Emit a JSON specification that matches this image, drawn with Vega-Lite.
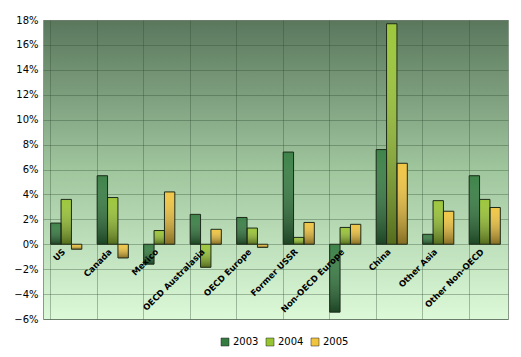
{
  "$schema": "https://vega.github.io/schema/vega-lite/v6.json",
  "width": 465,
  "height": 299,
  "autosize": {"type": "none"},
  "padding": {"left": 43, "top": 20, "right": 13, "bottom": 38},
  "background": "white",
  "config": {
    "font": "DejaVu Sans",
    "view": {
      "fill": {"gradient": "linear", "x1": 0, "y1": 0, "x2": 0, "y2": 1,
        "stops": [{"offset": 0, "color": "#5a775d"}, {"offset": 0.5, "color": "#a0c69e"}, {"offset": 1, "color": "#dcf9d8"}]},
      "stroke": "#8a9a8a"
    }
  },
  "data": {"values": [
    {"region": "US", "year": "2003", "value": 0.017},
    {"region": "US", "year": "2004", "value": 0.036},
    {"region": "US", "year": "2005", "value": -0.004},
    {"region": "Canada", "year": "2003", "value": 0.055},
    {"region": "Canada", "year": "2004", "value": 0.0375},
    {"region": "Canada", "year": "2005", "value": -0.011},
    {"region": "Mexico", "year": "2003", "value": -0.016},
    {"region": "Mexico", "year": "2004", "value": 0.011},
    {"region": "Mexico", "year": "2005", "value": 0.042},
    {"region": "OECD Australasia", "year": "2003", "value": 0.024},
    {"region": "OECD Australasia", "year": "2004", "value": -0.0185},
    {"region": "OECD Australasia", "year": "2005", "value": 0.012},
    {"region": "OECD Europe", "year": "2003", "value": 0.0215},
    {"region": "OECD Europe", "year": "2004", "value": 0.013},
    {"region": "OECD Europe", "year": "2005", "value": -0.0025},
    {"region": "Former USSR", "year": "2003", "value": 0.074},
    {"region": "Former USSR", "year": "2004", "value": 0.0055},
    {"region": "Former USSR", "year": "2005", "value": 0.0175},
    {"region": "Non-OECD Europe", "year": "2003", "value": -0.0545},
    {"region": "Non-OECD Europe", "year": "2004", "value": 0.0135},
    {"region": "Non-OECD Europe", "year": "2005", "value": 0.016},
    {"region": "China", "year": "2003", "value": 0.076},
    {"region": "China", "year": "2004", "value": 0.177},
    {"region": "China", "year": "2005", "value": 0.065},
    {"region": "Other Asia", "year": "2003", "value": 0.008},
    {"region": "Other Asia", "year": "2004", "value": 0.035},
    {"region": "Other Asia", "year": "2005", "value": 0.0265},
    {"region": "Other Non-OECD", "year": "2003", "value": 0.055},
    {"region": "Other Non-OECD", "year": "2004", "value": 0.036},
    {"region": "Other Non-OECD", "year": "2005", "value": 0.0295}
  ]},
  "encoding": {
    "x": {"field": "region", "type": "nominal",
      "sort": ["US", "Canada", "Mexico", "OECD Australasia", "OECD Europe", "Former USSR", "Non-OECD Europe", "China", "Other Asia", "Other Non-OECD"],
      "scale": {"paddingInner": 0.33, "paddingOuter": 0.165},
      "axis": {"labels": false, "ticks": false, "domain": false, "title": null, "grid": true, "bandPosition": 0, "gridColor": "#2f4a30", "gridOpacity": 0.35}}
  },
  "layer": [
    {
      "mark": {"type": "bar", "strokeWidth": 0},
      "encoding": {
        "xOffset": {"field": "year", "type": "nominal"},
        "y": {"field": "value", "type": "quantitative",
          "scale": {"domain": [-0.06, 0.18], "nice": false},
          "axis": {"values": [-0.06, -0.04, -0.02, 0, 0.02, 0.04, 0.06, 0.08, 0.1, 0.12, 0.14, 0.16, 0.18], "tickCount": 13, "labelOverlap": false, "format": ".0%", "title": null, "domain": false, "ticks": false, "labelFontSize": 10, "labelColor": "#000", "labelPadding": 5, "gridColor": "#2f4a30", "gridOpacity": 0.35}},
        "color": {"field": "year", "type": "nominal",
          "scale": {"range": ["#347c40", "#98c432", "#f0c43e"]},
          "legend": {"orient": "none", "legendX": 177, "legendY": 317, "direction": "horizontal", "title": null, "symbolType": "square", "symbolSize": 64, "labelFontSize": 10, "labelColor": "#000", "labelOffset": 3, "columnPadding": 6, "symbolStrokeColor": "#222", "symbolStrokeWidth": 0.5}}
      }
    },
    {
      "mark": {"type": "bar", "stroke": "#1d2a1a", "strokeWidth": 1,
        "fill": {"gradient": "linear", "x1": 0, "y1": 0, "x2": 0, "y2": 1,
          "stops": [{"offset": 0, "color": "rgba(255,255,255,0.05)"}, {"offset": 1, "color": "rgba(0,0,0,0.45)"}]}},
      "encoding": {
        "xOffset": {"field": "year", "type": "nominal"},
        "y": {"field": "value", "type": "quantitative"}
      }
    },
    {
      "transform": [{"filter": "datum.year == '2003'"}],
      "mark": {"type": "text", "angle": -45, "align": "right", "baseline": "top", "fontWeight": "bold", "fontSize": 8.5, "dx": -6, "dy": -1.5},
      "encoding": {
        "y": {"datum": 0},
        "text": {"field": "region"}
      }
    }
  ]
}
